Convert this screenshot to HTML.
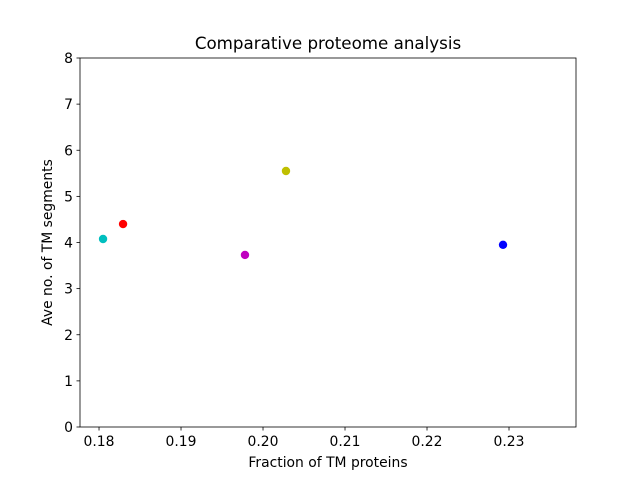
<!DOCTYPE html>
<html><head><meta charset="utf-8"><style>body{margin:0;background:#fff}svg{display:block;font-family:"DejaVu Sans","Liberation Sans",sans-serif}</style></head>
<body>
<svg id="chart" width="640" height="480">
<rect width="640" height="480" fill="#fff"/>
<g id="plot"></g>
</svg>
<script>
const xValues=[0.18049,0.18293,0.19780,0.20280,0.22927];
const yValues=[4.076,4.40,3.73,5.55,3.95];
const colors=['#00bfbf','#ff0000','#bf00bf','#bfbf00','#0000ff'];
const xTicks=[0.18,0.19,0.20,0.21,0.22,0.23];
const xTickLabels=['0.18','0.19','0.20','0.21','0.22','0.23'];
const yTicks=[0,1,2,3,4,5,6,7,8];
const L=80,R=576,T=58,B=427,xmin=0.17768,xmax=0.23817,ymin=0,ymax=8;
const sx=v=>L+(v-xmin)/(xmax-xmin)*(R-L);
const sy=v=>B-(v-ymin)/(ymax-ymin)*(B-T);
const NS='http://www.w3.org/2000/svg';
const g=document.getElementById('plot');
function mk(t,a,txt){const e=document.createElementNS(NS,t);for(const k in a)e.setAttribute(k,a[k]);if(txt!==undefined)e.textContent=txt;g.appendChild(e);return e;}
xValues.forEach((x,i)=>{const c=mk('circle',{cx:sx(x),cy:sy(yValues[i]),r:4.2,fill:colors[i]});

});
const f=mk('rect',{x:L,y:T,width:R-L,height:B-T,fill:'none',stroke:'#000','stroke-width':0.8});


xTicks.forEach((t,i)=>{const x=sx(t);mk('line',{x1:x,x2:x,y1:B,y2:B+3.5,stroke:'#000','stroke-width':0.8});
const l=mk('text',{x:x,y:B+19,'text-anchor':'middle','font-size':13.9},xTickLabels[i]);

});
yTicks.forEach(t=>{const y=sy(t);mk('line',{x1:L-3.5,x2:L,y1:y,y2:y,stroke:'#000','stroke-width':0.8});
const l=mk('text',{x:L-7,y:y+5,'text-anchor':'end','font-size':13.9},String(t));

});
const tt=mk('text',{x:(L+R)/2,y:49,'text-anchor':'middle','font-size':16.7},'Comparative proteome analysis');


const xt=mk('text',{x:(L+R)/2,y:467,'text-anchor':'middle','font-size':13.9},'Fraction of TM proteins');


const yt=mk('text',{x:0,y:0,'text-anchor':'middle','font-size':13.9,transform:`translate(52,${(T+B)/2}) rotate(-90)`},'Ave no. of TM segments');


</script>
</body></html>
